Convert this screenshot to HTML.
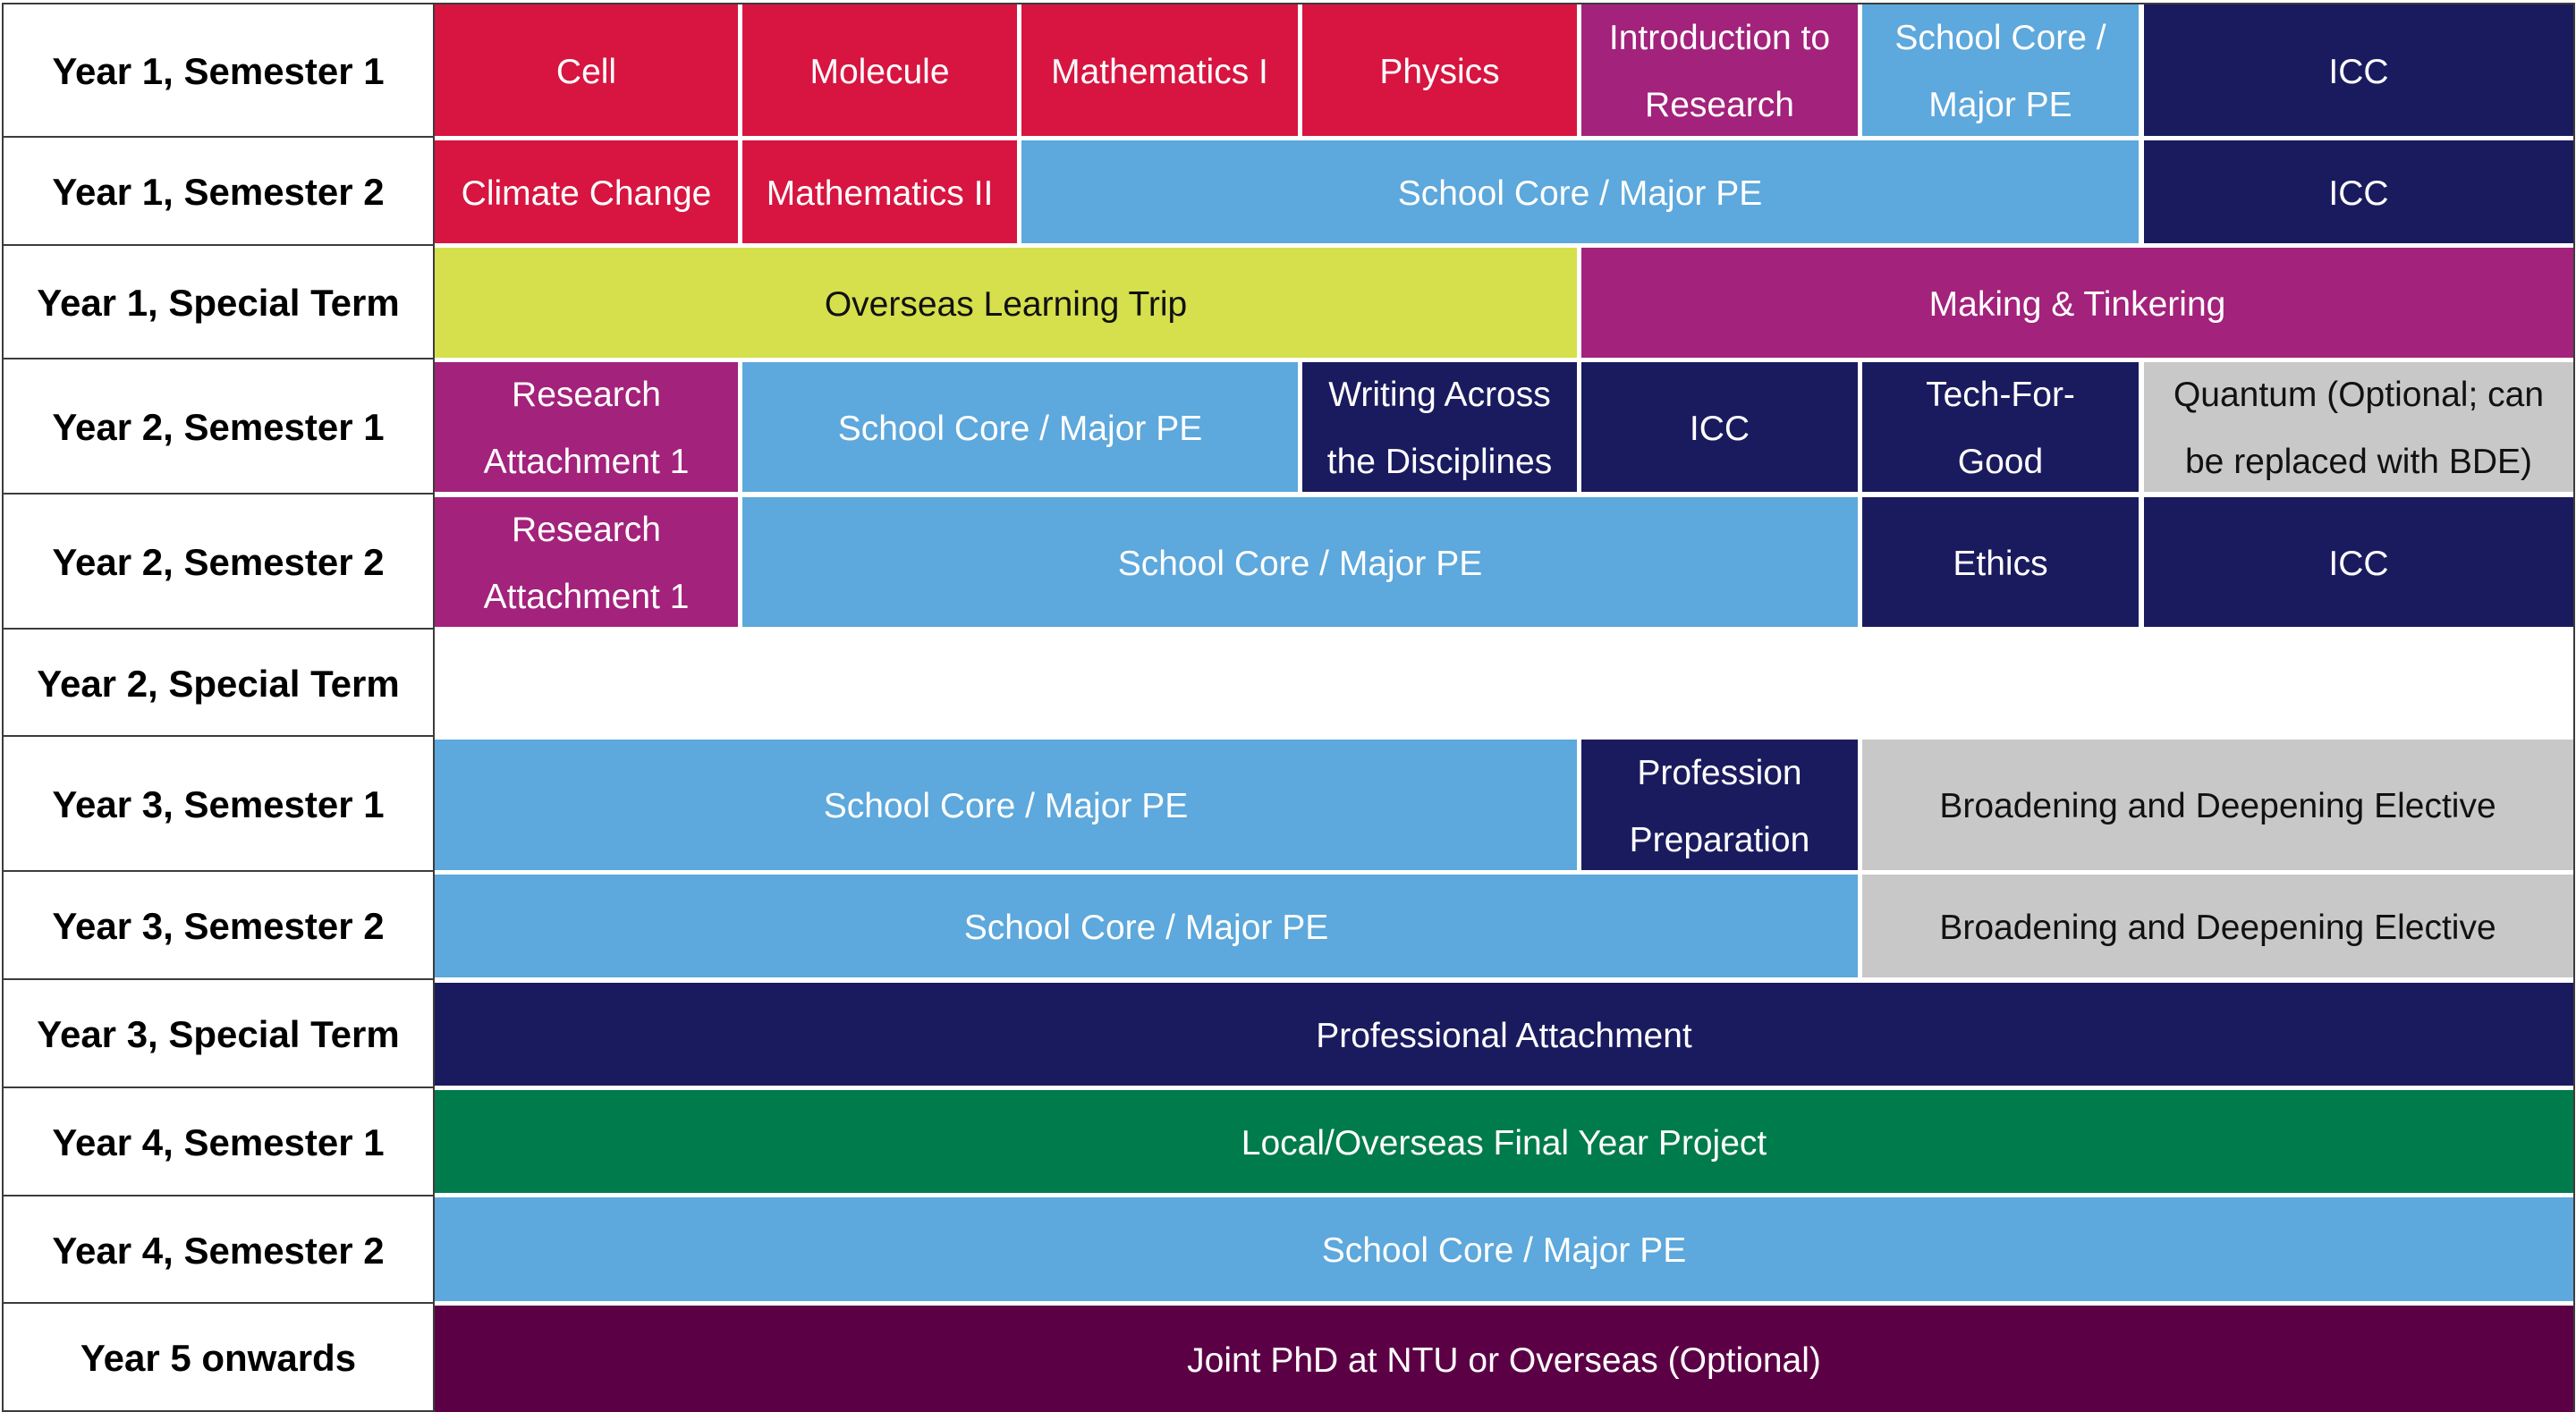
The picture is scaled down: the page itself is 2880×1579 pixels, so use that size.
<!DOCTYPE html>
<html>
<head>
<meta charset="utf-8">
<style>
  html, body { margin:0; padding:0; }
  body { width:2880px; height:1579px; position:relative; background:#ffffff; overflow:hidden; }
  .c { position:absolute; display:flex; align-items:center; justify-content:center; text-align:center;
       font-family:"Liberation Sans", Arial, sans-serif; font-size:39px; line-height:75px; color:#ffffff; box-sizing:border-box; padding-top:3px; }
  .lab { position:absolute; left:4px; width:480px; display:flex; align-items:center; justify-content:center; box-sizing:border-box; padding-top:3px;
         font-family:"Liberation Sans", Arial, sans-serif; font-weight:bold; font-size:42px; color:#000; }
  .ln { position:absolute; background:#3c3c3c; }
  .red { background:#D71540; }
  .mag { background:#A3227B; }
  .blu { background:#5DA8DC; }
  .nav { background:#1A1B5F; }
  .lim { background:#D5E04C; color:#111; }
  .gry { background:#C8C8C8; color:#111; }
  .grn { background:#007B4B; }
  .plm { background:#5C0046; }
</style>
</head>
<body>

<!-- Row 1 -->
<div class="c red" style="left:486px;top:5px;width:339px;height:147px;">Cell</div>
<div class="c red" style="left:830px;top:5px;width:307px;height:147px;">Molecule</div>
<div class="c red" style="left:1142px;top:5px;width:309px;height:147px;">Mathematics I</div>
<div class="c red" style="left:1456px;top:5px;width:307px;height:147px;">Physics</div>
<div class="c mag" style="left:1768px;top:5px;width:309px;height:147px;">Introduction to<br>Research</div>
<div class="c blu" style="left:2082px;top:5px;width:309px;height:147px;">School Core /<br>Major PE</div>
<div class="c nav" style="left:2397px;top:5px;width:480px;height:147px;">ICC</div>

<!-- Row 2 -->
<div class="c red" style="left:486px;top:157px;width:339px;height:115px;">Climate Change</div>
<div class="c red" style="left:830px;top:157px;width:307px;height:115px;">Mathematics II</div>
<div class="c blu" style="left:1142px;top:157px;width:1249px;height:115px;">School Core / Major PE</div>
<div class="c nav" style="left:2397px;top:157px;width:480px;height:115px;">ICC</div>

<!-- Row 3 -->
<div class="c lim" style="left:486px;top:277px;width:1277px;height:123px;">Overseas Learning Trip</div>
<div class="c mag" style="left:1768px;top:277px;width:1109px;height:123px;">Making &amp; Tinkering</div>

<!-- Row 4 -->
<div class="c mag" style="left:486px;top:405px;width:339px;height:145px;">Research<br>Attachment 1</div>
<div class="c blu" style="left:830px;top:405px;width:621px;height:145px;">School Core / Major PE</div>
<div class="c nav" style="left:1456px;top:405px;width:307px;height:145px;">Writing Across<br>the Disciplines</div>
<div class="c nav" style="left:1768px;top:405px;width:309px;height:145px;">ICC</div>
<div class="c nav" style="left:2082px;top:405px;width:309px;height:145px;">Tech-For-<br>Good</div>
<div class="c gry" style="left:2397px;top:405px;width:480px;height:145px;">Quantum (Optional; can<br>be replaced with BDE)</div>

<!-- Row 5 -->
<div class="c mag" style="left:486px;top:556px;width:339px;height:145px;">Research<br>Attachment 1</div>
<div class="c blu" style="left:830px;top:556px;width:1247px;height:145px;">School Core / Major PE</div>
<div class="c nav" style="left:2082px;top:556px;width:309px;height:145px;">Ethics</div>
<div class="c nav" style="left:2397px;top:556px;width:480px;height:145px;">ICC</div>

<!-- Row 7 -->
<div class="c blu" style="left:486px;top:827px;width:1277px;height:146px;">School Core / Major PE</div>
<div class="c nav" style="left:1768px;top:827px;width:309px;height:146px;">Profession<br>Preparation</div>
<div class="c gry" style="left:2082px;top:827px;width:795px;height:146px;">Broadening and Deepening Elective</div>

<!-- Row 8 -->
<div class="c blu" style="left:486px;top:978px;width:1591px;height:115px;">School Core / Major PE</div>
<div class="c gry" style="left:2082px;top:978px;width:795px;height:115px;">Broadening and Deepening Elective</div>

<!-- Row 9-12 -->
<div class="c nav" style="left:486px;top:1099px;width:2391px;height:115px;">Professional Attachment</div>
<div class="c grn" style="left:486px;top:1219px;width:2391px;height:115px;">Local/Overseas Final Year Project</div>
<div class="c blu" style="left:486px;top:1339px;width:2391px;height:116px;">School Core / Major PE</div>
<div class="c plm" style="left:486px;top:1460px;width:2391px;height:119px;">Joint PhD at NTU or Overseas (Optional)</div>

<!-- Labels -->
<div class="lab" style="top:5px;height:147px;">Year 1, Semester 1</div>
<div class="lab" style="top:154px;height:119px;">Year 1, Semester 2</div>
<div class="lab" style="top:275px;height:125px;">Year 1, Special Term</div>
<div class="lab" style="top:402px;height:149px;">Year 2, Semester 1</div>
<div class="lab" style="top:553px;height:149px;">Year 2, Semester 2</div>
<div class="lab" style="top:704px;height:118px;">Year 2, Special Term</div>
<div class="lab" style="top:824px;height:149px;">Year 3, Semester 1</div>
<div class="lab" style="top:975px;height:119px;">Year 3, Semester 2</div>
<div class="lab" style="top:1096px;height:119px;">Year 3, Special Term</div>
<div class="lab" style="top:1217px;height:119px;">Year 4, Semester 1</div>
<div class="lab" style="top:1338px;height:118px;">Year 4, Semester 2</div>
<div class="lab" style="top:1458px;height:119px;">Year 5 onwards</div>

<!-- Border lines -->
<div class="ln" style="left:2px;top:3px;width:2877px;height:2px;"></div>
<div class="ln" style="left:2px;top:3px;width:2px;height:1576px;"></div>
<div class="ln" style="left:2877px;top:3px;width:2px;height:1576px;"></div>
<div class="ln" style="left:484px;top:3px;width:2px;height:1576px;"></div>
<div class="ln" style="left:2px;top:1577px;width:484px;height:2px;"></div>

<div class="ln" style="left:2px;top:152px;width:484px;height:2px;"></div>
<div class="ln" style="left:2px;top:273px;width:484px;height:2px;"></div>
<div class="ln" style="left:2px;top:400px;width:484px;height:2px;"></div>
<div class="ln" style="left:2px;top:551px;width:484px;height:2px;"></div>
<div class="ln" style="left:2px;top:702px;width:484px;height:2px;"></div>
<div class="ln" style="left:2px;top:822px;width:484px;height:2px;"></div>
<div class="ln" style="left:2px;top:973px;width:484px;height:2px;"></div>
<div class="ln" style="left:2px;top:1094px;width:484px;height:2px;"></div>
<div class="ln" style="left:2px;top:1215px;width:484px;height:2px;"></div>
<div class="ln" style="left:2px;top:1336px;width:484px;height:2px;"></div>
<div class="ln" style="left:2px;top:1456px;width:484px;height:2px;"></div>

</body>
</html>
